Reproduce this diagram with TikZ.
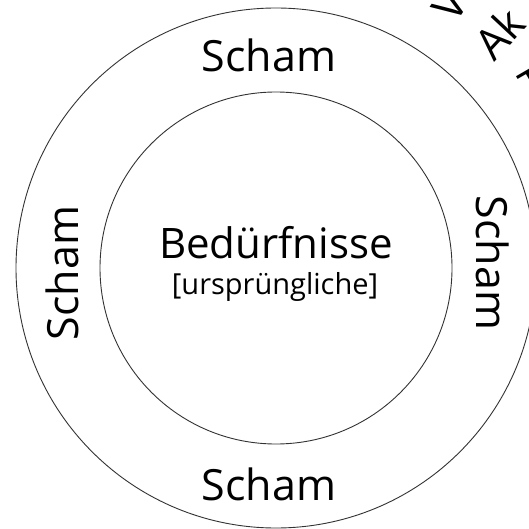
\documentclass[tikz,border=0pt]{standalone}
\usepackage{fontspec}
\setmainfont{Open Sans}
\begin{document}
\begin{tikzpicture}[x=1pt,y=-1pt,
  ring/.style={draw=black!80,line width=0.9pt},
  big/.style={font=\fontsize{43}{52}\selectfont,inner sep=0pt},
  mid/.style={font=\fontsize{42}{50}\selectfont,inner sep=0pt},
  small/.style={font=\fontsize{29}{34}\selectfont,inner sep=0pt}]
\useasboundingbox (0,0) rectangle (529,529);
\clip (0,0) rectangle (529,529);
\fill[white] (0,0) rectangle (529,529);
\coordinate (c) at (276,268);
\draw[ring] (c) circle[radius=260pt];
\draw[ring] (c) circle[radius=176pt];
\node[big,anchor=base] (stop) at (269,72) {Scham};
\node[big,anchor=base] (sbot) at (269,500) {Scham};
\node[big,anchor=base,rotate=90] (sleft) at (78,273) {Scham};
\node[big,anchor=base,rotate=-90] (sright) at (476,263) {Scham};
\node[mid,anchor=base] (bed) at (276,258) {Bedürfnisse};
\node[small,anchor=base] (urs) at (275,294) {[ursprüngliche]};
\node[big,anchor=base west,rotate=56] (l1) at (455,25) {V};
\node[big,anchor=base west,rotate=47] (l2) at (494,63) {Ak};
\node[big,anchor=base west,rotate=30] (l3) at (531,104) {T};
\end{tikzpicture}
\end{document}
